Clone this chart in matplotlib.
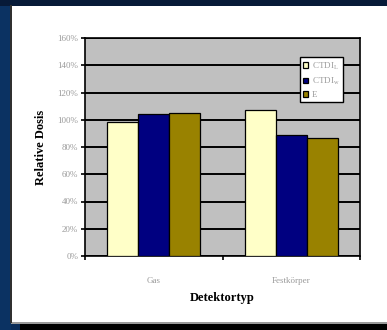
import matplotlib
matplotlib.use("Agg")
import matplotlib.pyplot as plt
from matplotlib.patches import Rectangle
import numpy as np

categories = ["Gas", "Festkörper"]
series_names = ["CTDI$_\\mathregular{L}$", "CTDI$_\\mathregular{w}$", "E"]
ctdi_l = [98, 107]
ctdi_w = [104, 89]
e_vals = [105, 86.5]
y_ticks = [0, 20, 40, 60, 80, 100, 120, 140, 160]
y_tick_labels = [f"{v}%" for v in y_ticks]

colors = ["#ffffc8", "#000080", "#998200"]
serif = "Liberation Serif"

W, H = 387, 330
fig = plt.figure(figsize=(W / 100, H / 100), dpi=100)
fig.patch.set_facecolor("#0a2c58")

# slide frame around the white chart panel
def px_rect(x0, y0, x1, y1, color, z=0):
    fig.patches.append(Rectangle((x0 / W, 1 - y1 / H), (x1 - x0) / W, (y1 - y0) / H,
                                 transform=fig.transFigure, facecolor=color,
                                 edgecolor="none", zorder=z))

px_rect(0, 0, W, 6, "#071a38")
px_rect(0, 6, 11, H, "#0b3262")
px_rect(20, 323, W, H, "#000000")
px_rect(11, 322, W, 324, "#9a9a9a", 1)
px_rect(10, 5, 12, 323, "#303030", 1)
px_rect(12, 6, W, 322, "#ffffff", 2)

ax = fig.add_axes([85 / W, 1 - 256 / H, 275 / W, 218 / H])
ax.set_zorder(3)
ax.set_facecolor("#c0c0c0")

x = np.arange(len(categories))
width = 0.225
for i, (vals, name) in enumerate(zip([ctdi_l, ctdi_w, e_vals], series_names)):
    ax.bar(x + (i - 1) * width, vals, width, color=colors[i], edgecolor="black",
           linewidth=0.9, label=name, zorder=3)

ax.set_xlim(-0.5, 1.5)
ax.set_ylim(0, 160)
ax.set_yticks(y_ticks)
ax.set_yticklabels(y_tick_labels, fontfamily=serif, fontsize=6.5, color="#9a9a9a")
ax.yaxis.grid(True, color="black", linewidth=1.4, zorder=1)
ax.set_axisbelow(True)
ax.tick_params(axis="y", direction="out", length=3, width=1.2, pad=2)

ax.set_xticks([-0.5, 0.5, 1.5])
ax.set_xticklabels([])
ax.set_xticks(x, minor=True)
ax.set_xticklabels(categories, minor=True, fontfamily=serif, fontsize=6.5, color="#9a9a9a")
ax.tick_params(axis="x", which="major", direction="out", length=3, width=1.2)
ax.tick_params(axis="x", which="minor", length=0, pad=15)

for s in ax.spines.values():
    s.set_color("black")
    s.set_linewidth(1.2)

ax.set_ylabel("Relative Dosis", fontfamily=serif, fontsize=9, fontweight="bold",
              color="black", labelpad=7)
ax.set_xlabel("Detektortyp", fontfamily=serif, fontsize=9, fontweight="bold",
              color="black", labelpad=5)

leg = ax.legend(loc="upper left", bbox_to_anchor=(215 / 275, 1 - 19 / 218),
                prop={"family": serif, "size": 6.5}, frameon=True, fancybox=False,
                edgecolor="black", framealpha=1, handlelength=0.55, handleheight=0.55,
                handletextpad=0.4, borderpad=0.35, labelspacing=0.45, borderaxespad=0)
leg.get_frame().set_linewidth(1.0)
for t in leg.get_texts():
    t.set_color("#9a9a9a")

fig.savefig("out.png", dpi=100, facecolor=fig.get_facecolor())
